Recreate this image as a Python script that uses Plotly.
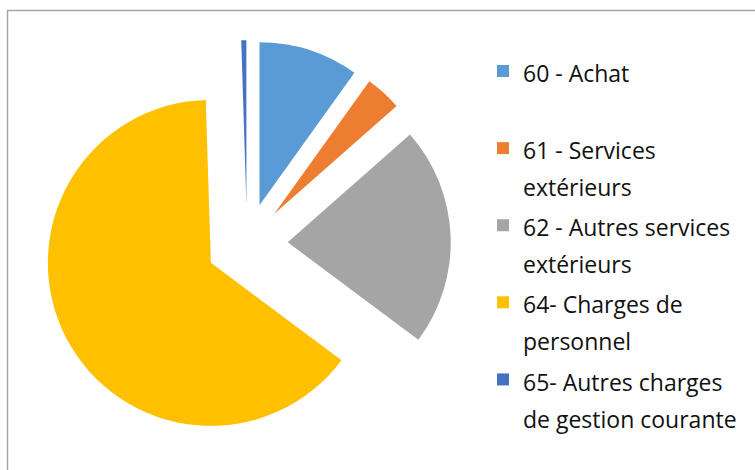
import plotly.graph_objects as go

labels = ["60 - Achat", "61 - Services extérieurs", "62 - Autres services extérieurs",
          "64- Charges de personnel", "65- Autres charges de gestion courante"]
legend_text = ["60 - Achat<br> ", "61 - Services<br>extérieurs", "62 - Autres services<br>extérieurs",
               "64- Charges de<br>personnel", "65- Autres charges<br>de gestion courante"]
values = [9.9, 3.6, 21.7, 64.3, 0.5]
colors = ["#5B9BD5", "#ED7D31", "#A5A5A5", "#FFC000", "#4472C4"]

W, H = 755, 470
cx, cy, r, pull = 247, 244, 163, 0.25
half = r * (1 + pull)

fig = go.Figure(go.Pie(
    labels=[f"<span style='font-size:23px'>{t}</span>" for t in legend_text],
    values=values,
    sort=False,
    direction="clockwise",
    rotation=0,
    pull=[pull] * len(values),
    marker=dict(colors=colors, line=dict(width=0)),
    textinfo="none",
    hovertext=labels,
    hoverinfo="text+percent",
    domain=dict(x=[(cx - half) / W, (cx + half) / W],
                y=[1 - (cy + half) / H, 1 - (cy - half) / H]),
))

fig.update_layout(
    width=W, height=H,
    margin=dict(l=0, r=0, t=0, b=0),
    paper_bgcolor="white",
    font=dict(family="Open Sans", color="#111111"),
    legend=dict(
        x=483 / W, xanchor="left",
        y=1 - 46 / H, yanchor="top",
        font=dict(size=28.5, family="Open Sans", color="#111111"),
        valign="top",
        itemwidth=30,
        bgcolor="rgba(0,0,0,0)",
    ),
    shapes=[dict(type="rect", xref="paper", yref="paper",
                 x0=7.5 / W, x1=1.02, y0=-0.02, y1=1 - 10.5 / H,
                 line=dict(color="#A6A6A6", width=1.5))],
)

fig.write_html("out.html")
